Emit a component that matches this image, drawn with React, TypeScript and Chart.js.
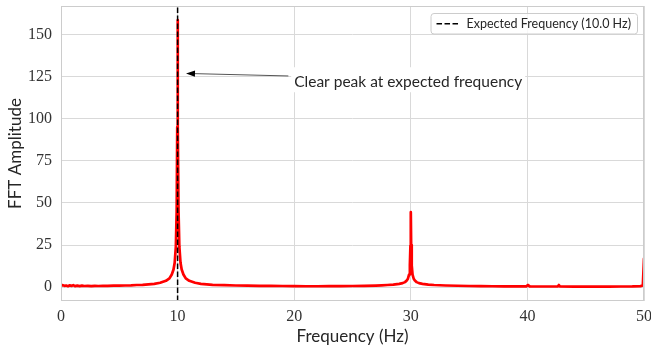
import React, { useEffect, useRef } from 'react';
import { Chart, registerables } from 'chart.js';

Chart.register(...registerables);

// ---- Data ----
const freqHz = [
  0, 0.15, 0.3, 0.45, 0.6, 0.75, 0.9, 1.05, 1.2, 1.4, 1.6, 1.8, 2.0, 2.3, 2.6, 2.9, 3.2, 3.6, 4.0, 4.5,
  5.0, 5.5, 6.0, 6.5, 7.0, 7.5, 8.0, 8.5, 9.0, 9.3, 9.5, 9.65, 9.75, 9.85, 9.92, 9.97, 10.0,
  10.03, 10.08, 10.15, 10.25, 10.35, 10.5, 10.7, 11.0, 11.5, 12.0, 12.5, 13.0, 14.0, 15.0,
  16, 17, 18, 19, 20, 21, 22, 23, 24, 25, 26, 27, 27.5, 28, 28.5, 29, 29.3, 29.5, 29.65, 29.75,
  29.85, 29.92, 29.97, 30.0, 30.03, 30.08, 30.15, 30.25, 30.35, 30.5, 30.7, 31.0, 31.5, 32, 32.5,
  33, 34, 35, 36, 37, 38, 39, 39.9, 40.05, 40.2, 41, 42, 42.6, 42.7, 42.8, 44, 45, 46, 47, 48, 49,
  49.7, 49.9, 50,
];
const fftAmplitude = [
  0.9, 1.2, 0.8, 1.0, 0.6, 1.1, 0.7, 1.2, 0.6, 0.9, 0.6, 0.9, 0.7, 0.8, 0.6, 0.8, 0.7, 0.8, 0.8, 0.9,
  0.9, 1.0, 1.1, 1.3, 1.4, 1.7, 2.0, 2.6, 3.8, 5.2, 7.5, 10.5, 14.5, 24, 45, 95, 158.5,
  95, 45, 24, 14.5, 10.5, 7.5, 5.2, 3.8, 2.6, 2.0, 1.7, 1.4, 1.2, 1.0,
  0.9, 0.8, 0.75, 0.7, 0.6, 0.55, 0.55, 0.6, 0.65, 0.7, 0.8, 0.95, 1.1, 1.3, 1.55, 2.0, 2.4, 3.0, 3.9, 5.0,
  7.5, 13, 25, 44.5, 25, 13, 7.5, 5.0, 3.9, 3.0, 2.4, 2.0, 1.55, 1.3, 1.15,
  1.0, 0.85, 0.7, 0.6, 0.55, 0.5, 0.45, 0.45, 1.3, 0.45, 0.4, 0.4, 0.4, 1.3, 0.4, 0.35, 0.35, 0.35, 0.35, 0.4, 0.45,
  0.6, 1.0, 17,
];
const expectedFreq = 10.0;
const xTickValues = [0, 10, 20, 30, 40, 50];
const yTickValues = [0, 25, 50, 75, 100, 125, 150];
const xRange = [0, 50];
const yRange = [-8.2, 166.8];
const legendLabel = 'Expected Frequency (10.0 Hz)';
const annotationText = 'Clear peak at expected frequency';
const arrowTip = [10.72, 126.8];
const arrowTail = [19.5, 125.3];
const textAnchor = [20, 118.6];

const SERIF = '"Liberation Serif", "DejaVu Serif", serif';
const SANS = 'Lato, "Open Sans", sans-serif';
const TEXT_COLOR = '#262626';
const GRID_COLOR = '#d9d9d9';

const framePlugin = {
  id: 'frame',
  afterDatasetsDraw(chart: any) {
    const { ctx, chartArea, scales } = chart;
    const { left, right, top, bottom } = chartArea;
    ctx.save();
    // spines (all four, light grey)
    ctx.strokeStyle = '#cccccc';
    ctx.lineWidth = 1;
    ctx.strokeRect(left + 0.5, top + 0.5, right - left - 1, bottom - top - 1);

    const xs = scales.x;
    const ys = scales.y;

    // annotation text with white box
    ctx.font = `15.5px ${SANS}`;
    const tx = xs.getPixelForValue(textAnchor[0]);
    const ty = ys.getPixelForValue(textAnchor[1]);
    const tw = ctx.measureText(annotationText).width;
    ctx.fillStyle = '#ffffff';
    ctx.fillRect(tx - 3, ty - 20, tw + 6, 25);
    ctx.fillStyle = TEXT_COLOR;
    ctx.textBaseline = 'alphabetic';
    ctx.textAlign = 'left';
    ctx.fillText(annotationText, tx, ty);

    // arrow
    const ax = xs.getPixelForValue(arrowTip[0]);
    const ay = ys.getPixelForValue(arrowTip[1]);
    const bx = xs.getPixelForValue(arrowTail[0]);
    const by = ys.getPixelForValue(arrowTail[1]);
    const ang = Math.atan2(ay - by, ax - bx);
    const headLen = 9;
    const headHalf = 3.2;
    const hx = ax - headLen * Math.cos(ang);
    const hy = ay - headLen * Math.sin(ang);
    ctx.strokeStyle = '#555555';
    ctx.lineWidth = 1;
    ctx.beginPath();
    ctx.moveTo(bx, by);
    ctx.lineTo(hx, hy);
    ctx.stroke();
    ctx.fillStyle = '#000000';
    ctx.beginPath();
    ctx.moveTo(ax, ay);
    ctx.lineTo(hx + headHalf * Math.sin(ang), hy - headHalf * Math.cos(ang));
    ctx.lineTo(hx - headHalf * Math.sin(ang), hy + headHalf * Math.cos(ang));
    ctx.closePath();
    ctx.fill();

    // legend
    ctx.font = `12.5px ${SANS}`;
    const lw = ctx.measureText(legendLabel).width;
    const boxRight = right - 7;
    const boxTop = top + 7;
    const pad = 6;
    const handleLen = 22;
    const gap = 8;
    const boxW = pad + handleLen + gap + lw + pad;
    const boxH = 20.5;
    const boxLeft = boxRight - boxW;
    ctx.fillStyle = 'rgba(255,255,255,0.8)';
    ctx.strokeStyle = '#cccccc';
    ctx.lineWidth = 1;
    ctx.beginPath();
    (ctx as any).roundRect(boxLeft + 0.5, boxTop + 0.5, boxW, boxH, 3);
    ctx.fill();
    ctx.stroke();
    const cy = boxTop + boxH / 2 + 0.5;
    ctx.strokeStyle = '#000000';
    ctx.lineWidth = 1.5;
    ctx.setLineDash([5.5, 2.5]);
    ctx.beginPath();
    ctx.moveTo(boxLeft + pad, cy);
    ctx.lineTo(boxLeft + pad + handleLen, cy);
    ctx.stroke();
    ctx.setLineDash([]);
    ctx.fillStyle = TEXT_COLOR;
    ctx.textBaseline = 'middle';
    ctx.fillText(legendLabel, boxLeft + pad + handleLen + gap, cy);
    ctx.restore();
  },
};

const zeroPadding = (scale: any) => {
  scale.paddingTop = 0;
  scale.paddingBottom = 0;
  scale.paddingLeft = 0;
  scale.paddingRight = 0;
};

export default function App() {
  const canvasRef = useRef<HTMLCanvasElement | null>(null);

  useEffect(() => {
    const canvas = canvasRef.current;
    if (!canvas) return;
    const chart = new Chart(canvas, {
      type: 'line',
      data: {
        datasets: [
          {
            label: legendLabel,
            data: [
              { x: expectedFreq, y: yRange[0] },
              { x: expectedFreq, y: yRange[1] },
            ],
            borderColor: '#000000',
            borderWidth: 1.5,
            borderDash: [5.5, 2.5],
            pointRadius: 0,
            order: 1,
          },
          {
            label: 'FFT',
            data: freqHz.map((f, i) => ({ x: f, y: fftAmplitude[i] })),
            borderColor: '#ff0000',
            borderWidth: 2.7,
            borderJoinStyle: 'round',
            borderCapStyle: 'round',
            pointRadius: 0,
            tension: 0,
            order: 2,
          },
        ],
      },
      options: {
        responsive: false,
        animation: false,
        events: [],
        layout: { padding: { left: 0, top: 6, right: 7, bottom: 0 } },
        plugins: {
          legend: { display: false },
          tooltip: { enabled: false },
        },
        scales: {
          x: {
            type: 'linear',
            min: xRange[0],
            max: xRange[1],
            afterBuildTicks: (scale: any) => {
              scale.ticks = xTickValues.map((v) => ({ value: v }));
            },
            afterFit: (scale: any) => {
              scale.height = 48;
              zeroPadding(scale);
            },
            grid: { color: GRID_COLOR, drawTicks: false, lineWidth: 1 },
            border: { display: false },
            ticks: {
              color: '#333333',
              font: { family: SERIF, size: 16 },
              padding: 6,
              maxRotation: 0,
            },
            title: {
              display: true,
              text: 'Frequency (Hz)',
              color: TEXT_COLOR,
              font: { family: SANS, size: 17 },
              padding: { top: 0, bottom: 2 },
            },
          },
          y: {
            type: 'linear',
            min: yRange[0],
            max: yRange[1],
            afterBuildTicks: (scale: any) => {
              scale.ticks = yTickValues.map((v) => ({ value: v }));
            },
            afterFit: (scale: any) => {
              scale.width = 61;
              zeroPadding(scale);
            },
            grid: { color: GRID_COLOR, drawTicks: false, lineWidth: 1 },
            border: { display: false },
            ticks: {
              color: '#333333',
              font: { family: SERIF, size: 16 },
              padding: 9,
            },
            title: {
              display: true,
              text: 'FFT Amplitude',
              color: TEXT_COLOR,
              font: { family: SANS, size: 17 },
              padding: { top: 5, bottom: 0 },
            },
          },
        },
      },
      plugins: [framePlugin],
    });
    return () => chart.destroy();
  }, []);

  return (
    <div style={{ position: 'fixed', left: 0, top: 0, width: 651, height: 349, background: '#ffffff' }}>
      <canvas ref={canvasRef} width={651} height={349} style={{ display: 'block' }} />
    </div>
  );
}
